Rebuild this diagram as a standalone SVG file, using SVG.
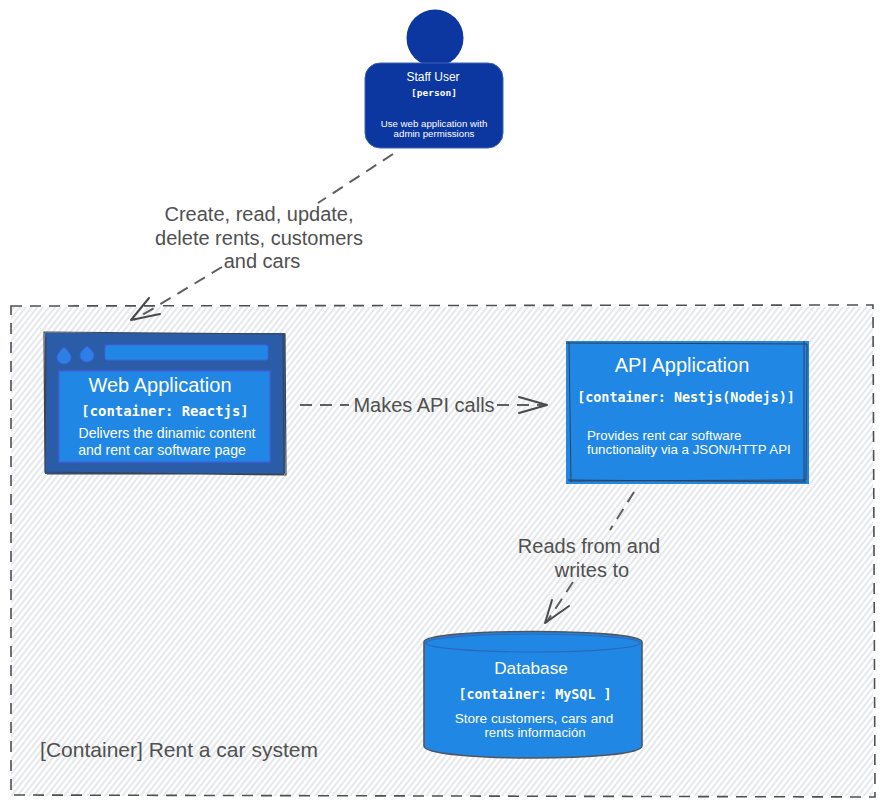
<svg xmlns="http://www.w3.org/2000/svg" width="883" height="804" viewBox="0 0 883 804">
<style>
text{font-family:"Liberation Sans",Arial,sans-serif;text-anchor:middle}
.lbl{fill:#505050;font-size:20px}
.w{fill:#fff}
.t{font-size:20px}
.d{font-size:14.1px}
.m{font-family:"DejaVu Sans Mono","Liberation Mono",monospace;font-weight:700;font-size:13.4px}
.dash{fill:none;stroke:#5f5f5f;stroke-width:2;stroke-dasharray:12 8}
.head{fill:none;stroke:#4a4a4a;stroke-width:2;stroke-linecap:round;stroke-linejoin:round}
.sk{fill:none;stroke:#3c4450;stroke-width:1.2}
</style>
<defs>
<pattern id="hatch" width="4.6" height="4.6" patternUnits="userSpaceOnUse" patternTransform="rotate(-52)">
<line x1="0" y1="2.3" x2="4.6" y2="2.3" stroke="#e0e3e8" stroke-width="1.8"/>
</pattern>
</defs>
<g id="boundary">
<rect x="11" y="307" width="862" height="489" fill="url(#hatch)"/>
<path d="M11 306L873 305L875 797L11 795Z" fill="none" stroke="#4f4f4f" stroke-width="1.6" stroke-dasharray="11 8"/>
<text x="179" y="757" class="lbl" style="font-size:21px">[Container] Rent a car system</text>
</g>
<g id="connectors">
<path class="dash" d="M393 154L318 203"/>
<path class="dash" d="M222 267L134 320"/>
<path class="head" d="M149 298L131 320L160 314"/>
<path class="dash" d="M300 405H349"/>
<path class="dash" d="M497 405H546"/>
<path class="head" d="M519 397L547 405L519 413"/>
<path class="dash" d="M634 492L610 530"/>
<path class="dash" d="M573 582L546 623"/>
<path class="head" d="M552 600L545 623L569 606"/>
<text x="259" y="221" class="lbl">Create, read, update,</text>
<text x="259" y="245" class="lbl">delete rents, customers</text>
<text x="262" y="268" class="lbl">and cars</text>
<text x="424" y="412" class="lbl">Makes API calls</text>
<text x="589" y="553" class="lbl">Reads from and</text>
<text x="592" y="577" class="lbl">writes to</text>
</g>
<g id="staff-user">
<circle cx="435" cy="38" r="28.5" fill="#0c36a0"/>
<rect x="365" y="63" width="138" height="85" rx="15" fill="#0c36a0" stroke="#3e62b8" stroke-width="1"/>
<text x="433" y="81" class="w" style="font-size:12px">Staff User</text>
<text x="434" y="96" class="w m" style="font-size:9.5px">[person]</text>
<text x="434" y="127" class="w" style="font-size:9.7px">Use web application with</text>
<text x="434" y="137" class="w" style="font-size:9.7px">admin permissions</text>
</g>
<g id="web-application">
<rect x="45" y="333" width="240" height="141" fill="#2a5ca8"/>
<path class="sk" d="M44 332L285 334L286 475L45 472Z M46 337L45 473 M47 474L284 474 M283 335L284 473"/>
<path d="M64 347Q71 354 71 357A7 7 0 0 1 57 357Q57 354 64 347Z" fill="#2b7fe6" stroke="#3f62e0"/>
<path d="M87 346Q94 352 94 355A7 7 0 0 1 80 355Q80 352 87 346Z" fill="#2b7fe6" stroke="#3f62e0"/>
<rect x="105" y="345" width="163" height="15" rx="2" fill="#2087e4" stroke="#3f62e0"/>
<rect x="59" y="371" width="211" height="91" fill="#2087e4" stroke="#3f62e0" stroke-width="1.5"/>
<text x="160" y="392" class="w t">Web Application</text>
<text x="165" y="416" class="w m" style="font-size:13.9px">[container: Reactjs]</text>
<text x="167" y="438" class="w d">Delivers the dinamic content</text>
<text x="162" y="455" class="w d">and rent car software page</text>
</g>
<g id="api-application">
<rect x="566" y="341" width="243" height="143" fill="#2087e4"/>
<path d="M566 343L807 344L806 480L570 481 M569 342L571 482 M804 341L804 481 M568 480L806 482" fill="none" stroke="#33405a" stroke-width="1"/>
<text x="682" y="372" class="w t">API Application</text>
<text x="686" y="402" class="w m">[container: Nestjs(Nodejs)]</text>
<text x="587" y="440" class="w" style="font-size:13.3px;text-anchor:start">Provides rent car software</text>
<text x="587" y="454" class="w" style="font-size:13.3px;text-anchor:start">functionality via a JSON/HTTP API</text>
</g>
<g id="database">
<path d="M424 642C424 628 642 628 642 642V746C642 762 424 762 424 746Z" fill="#2087e4" stroke="#50565f" stroke-width="1.6"/>
<ellipse cx="533" cy="643" rx="107" ry="9" fill="none" stroke="#2f68b8" stroke-width="1.2"/>
<text x="531" y="674" class="w" style="font-size:17.2px">Database</text>
<text x="535" y="699" class="w m">[container: MySQL ]</text>
<text x="534" y="723" class="w" style="font-size:13.6px">Store customers, cars and</text>
<text x="535" y="737" class="w" style="font-size:13.2px">rents información</text>
</g>
</svg>
